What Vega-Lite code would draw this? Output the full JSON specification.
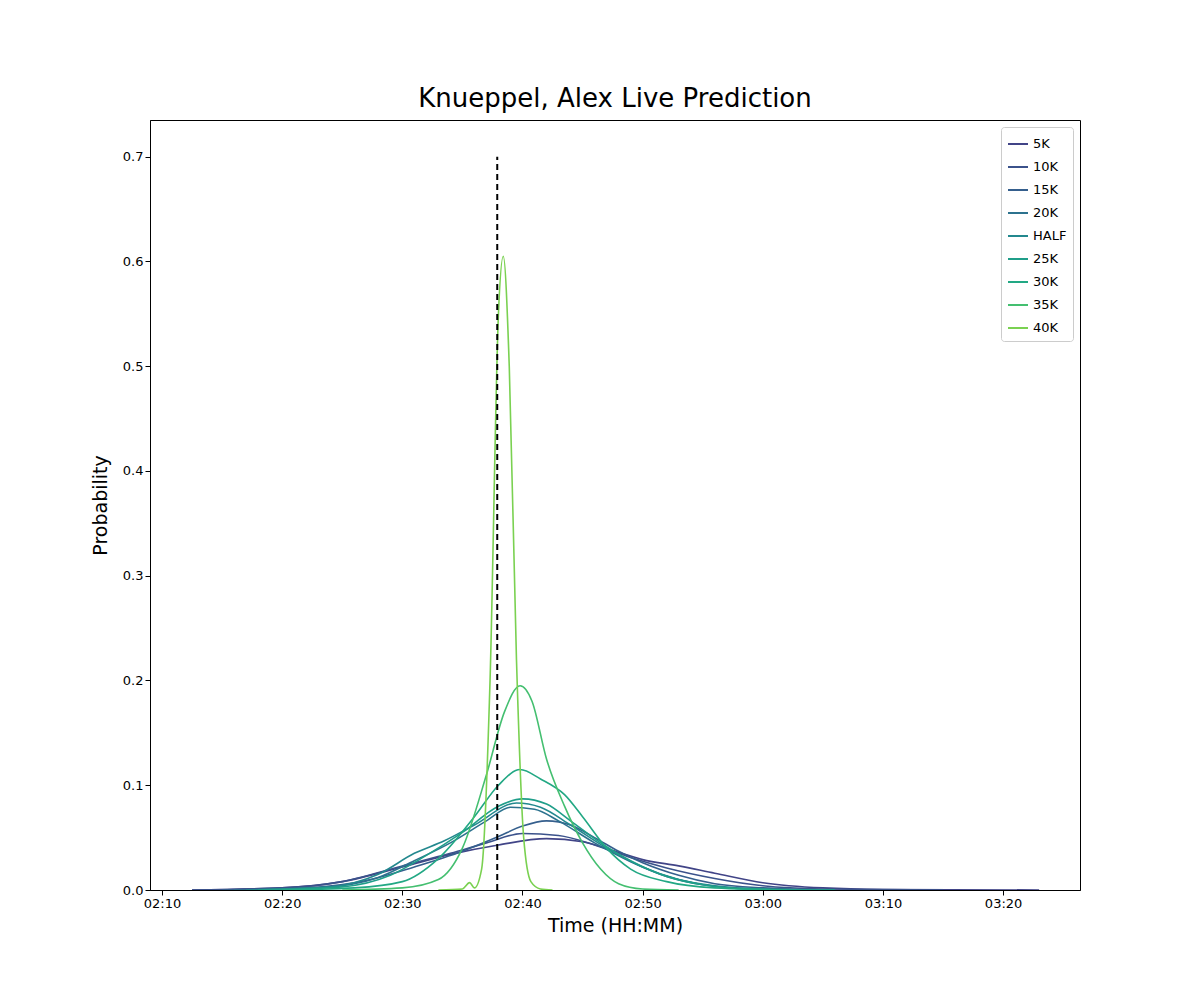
{
  "$schema": "https://vega.github.io/schema/vega-lite/v6.json",
  "autosize": "none",
  "width": 930,
  "height": 770,
  "padding": {"left": 150, "top": 120, "right": 120, "bottom": 110},
  "title": {"text": "Knueppel, Alex Live Prediction", "fontSize": 26, "font": "DejaVu Sans", "fontWeight": "normal", "offset": 8},
  "config": {
    "font": "DejaVu Sans",
    "view": {"stroke": "black", "strokeWidth": 1},
    "axis": {"grid": false, "domainColor": "black", "tickColor": "black", "labelColor": "black", "labelFontSize": 13, "titleFontSize": 19, "titleFontWeight": "normal", "titleColor": "black"}
  },
  "datasets": {
    "curves": [
      {"s":"5K","o":0,"t":132.5,"p":0},{"s":"5K","o":0,"t":140,"p":0.002},{"s":"5K","o":0,"t":145,"p":0.008},{"s":"5K","o":0,"t":150,"p":0.022},{"s":"5K","o":0,"t":154,"p":0.034},{"s":"5K","o":0,"t":158,"p":0.043},{"s":"5K","o":0,"t":162,"p":0.049},{"s":"5K","o":0,"t":165,"p":0.046},{"s":"5K","o":0,"t":168,"p":0.036},{"s":"5K","o":0,"t":170,"p":0.029},{"s":"5K","o":0,"t":173,"p":0.023},{"s":"5K","o":0,"t":176,"p":0.016},{"s":"5K","o":0,"t":180,"p":0.007},{"s":"5K","o":0,"t":185,"p":0.002},{"s":"5K","o":0,"t":190,"p":0.0005},{"s":"5K","o":0,"t":203,"p":0},
      {"s":"10K","o":1,"t":132.5,"p":0},{"s":"10K","o":1,"t":140,"p":0.002},{"s":"10K","o":1,"t":145,"p":0.008},{"s":"10K","o":1,"t":150,"p":0.023},{"s":"10K","o":1,"t":154,"p":0.035},{"s":"10K","o":1,"t":157,"p":0.045},{"s":"10K","o":1,"t":160,"p":0.054},{"s":"10K","o":1,"t":163,"p":0.052},{"s":"10K","o":1,"t":166,"p":0.043},{"s":"10K","o":1,"t":169,"p":0.031},{"s":"10K","o":1,"t":172,"p":0.021},{"s":"10K","o":1,"t":176,"p":0.011},{"s":"10K","o":1,"t":180,"p":0.004},{"s":"10K","o":1,"t":185,"p":0.001},{"s":"10K","o":1,"t":195,"p":0},
      {"s":"15K","o":2,"t":135,"p":0},{"s":"15K","o":2,"t":142,"p":0.002},{"s":"15K","o":2,"t":147,"p":0.009},{"s":"15K","o":2,"t":151,"p":0.022},{"s":"15K","o":2,"t":155,"p":0.037},{"s":"15K","o":2,"t":158,"p":0.051},{"s":"15K","o":2,"t":160,"p":0.061},{"s":"15K","o":2,"t":162,"p":0.066},{"s":"15K","o":2,"t":164,"p":0.062},{"s":"15K","o":2,"t":166,"p":0.05},{"s":"15K","o":2,"t":168,"p":0.037},{"s":"15K","o":2,"t":170,"p":0.026},{"s":"15K","o":2,"t":173,"p":0.014},{"s":"15K","o":2,"t":176,"p":0.006},{"s":"15K","o":2,"t":180,"p":0.002},{"s":"15K","o":2,"t":186,"p":0},
      {"s":"20K","o":3,"t":136,"p":0},{"s":"20K","o":3,"t":143,"p":0.002},{"s":"20K","o":3,"t":148,"p":0.012},{"s":"20K","o":3,"t":151,"p":0.028},{"s":"20K","o":3,"t":154,"p":0.045},{"s":"20K","o":3,"t":157,"p":0.066},{"s":"20K","o":3,"t":159,"p":0.079},{"s":"20K","o":3,"t":161,"p":0.077},{"s":"20K","o":3,"t":163,"p":0.066},{"s":"20K","o":3,"t":166,"p":0.045},{"s":"20K","o":3,"t":169,"p":0.027},{"s":"20K","o":3,"t":172,"p":0.013},{"s":"20K","o":3,"t":175,"p":0.005},{"s":"20K","o":3,"t":179,"p":0.001},{"s":"20K","o":3,"t":186,"p":0},
      {"s":"HALF","o":4,"t":137,"p":0},{"s":"HALF","o":4,"t":144,"p":0.003},{"s":"HALF","o":4,"t":148,"p":0.015},{"s":"HALF","o":4,"t":151,"p":0.035},{"s":"HALF","o":4,"t":153.5,"p":0.047},{"s":"HALF","o":4,"t":156,"p":0.062},{"s":"HALF","o":4,"t":159.5,"p":0.083},{"s":"HALF","o":4,"t":161.5,"p":0.079},{"s":"HALF","o":4,"t":164,"p":0.062},{"s":"HALF","o":4,"t":167,"p":0.04},{"s":"HALF","o":4,"t":170,"p":0.022},{"s":"HALF","o":4,"t":173,"p":0.01},{"s":"HALF","o":4,"t":176,"p":0.004},{"s":"HALF","o":4,"t":180,"p":0.001},{"s":"HALF","o":4,"t":186,"p":0},
      {"s":"25K","o":5,"t":138,"p":0},{"s":"25K","o":5,"t":145,"p":0.003},{"s":"25K","o":5,"t":149,"p":0.014},{"s":"25K","o":5,"t":152,"p":0.033},{"s":"25K","o":5,"t":155,"p":0.055},{"s":"25K","o":5,"t":158,"p":0.08},{"s":"25K","o":5,"t":160,"p":0.087},{"s":"25K","o":5,"t":162,"p":0.082},{"s":"25K","o":5,"t":164,"p":0.066},{"s":"25K","o":5,"t":166.5,"p":0.045},{"s":"25K","o":5,"t":169,"p":0.028},{"s":"25K","o":5,"t":172,"p":0.013},{"s":"25K","o":5,"t":175,"p":0.005},{"s":"25K","o":5,"t":179,"p":0.001},{"s":"25K","o":5,"t":186,"p":0},
      {"s":"30K","o":6,"t":140,"p":0},{"s":"30K","o":6,"t":146,"p":0.002},{"s":"30K","o":6,"t":150,"p":0.008},{"s":"30K","o":6,"t":153,"p":0.03},{"s":"30K","o":6,"t":156,"p":0.07},{"s":"30K","o":6,"t":158,"p":0.1},{"s":"30K","o":6,"t":159.8,"p":0.115},{"s":"30K","o":6,"t":161.5,"p":0.106},{"s":"30K","o":6,"t":163.5,"p":0.091},{"s":"30K","o":6,"t":165,"p":0.07},{"s":"30K","o":6,"t":167,"p":0.04},{"s":"30K","o":6,"t":169,"p":0.02},{"s":"30K","o":6,"t":172,"p":0.008},{"s":"30K","o":6,"t":176,"p":0.002},{"s":"30K","o":6,"t":182,"p":0},
      {"s":"35K","o":7,"t":145,"p":0},{"s":"35K","o":7,"t":150,"p":0.002},{"s":"35K","o":7,"t":153,"p":0.01},{"s":"35K","o":7,"t":155,"p":0.04},{"s":"35K","o":7,"t":157,"p":0.11},{"s":"35K","o":7,"t":158.5,"p":0.17},{"s":"35K","o":7,"t":159.8,"p":0.195},{"s":"35K","o":7,"t":160.8,"p":0.18},{"s":"35K","o":7,"t":162,"p":0.125},{"s":"35K","o":7,"t":163.5,"p":0.08},{"s":"35K","o":7,"t":165,"p":0.045},{"s":"35K","o":7,"t":166.5,"p":0.02},{"s":"35K","o":7,"t":168,"p":0.006},{"s":"35K","o":7,"t":170,"p":0.001},{"s":"35K","o":7,"t":173,"p":0},
      {"s":"40K","o":8,"t":153,"p":0},{"s":"40K","o":8,"t":155,"p":0.001},{"s":"40K","o":8,"t":155.6,"p":0.007},{"s":"40K","o":8,"t":156,"p":0.002},{"s":"40K","o":8,"t":156.6,"p":0.02},{"s":"40K","o":8,"t":157.3,"p":0.2},{"s":"40K","o":8,"t":158,"p":0.55},{"s":"40K","o":8,"t":158.4,"p":0.605},{"s":"40K","o":8,"t":158.9,"p":0.5},{"s":"40K","o":8,"t":159.5,"p":0.22},{"s":"40K","o":8,"t":160.1,"p":0.05},{"s":"40K","o":8,"t":160.7,"p":0.008},{"s":"40K","o":8,"t":161.5,"p":0.001},{"s":"40K","o":8,"t":162.5,"p":0}
    ],
    "actual": [{"t": 157.9, "p": 0}, {"t": 157.9, "p": 0.7}]
  },
  "layer": [
    {
      "data": {"name": "curves"},
      "mark": {"type": "line", "interpolate": "monotone", "strokeWidth": 1.6, "clip": true},
      "encoding": {
        "x": {"field": "t", "type": "quantitative", "scale": {"domain": [129, 206.4], "nice": false, "zero": false},
          "axis": {"values": [130,140,150,160,170,180,190,200], "labelExpr": "'0' + floor(datum.value/60) + ':' + (datum.value%60 < 10 ? '0' : '') + (datum.value%60)", "title": "Time (HH:MM)", "titlePadding": 6}},
        "y": {"field": "p", "type": "quantitative", "scale": {"domain": [0, 0.735], "nice": false},
          "axis": {"values": [0,0.1,0.2,0.3,0.4,0.5,0.6,0.7], "format": ".1f", "title": "Probability", "titlePadding": 12}},
        "color": {"field": "s", "type": "nominal",
          "scale": {"domain": ["5K","10K","15K","20K","HALF","25K","30K","35K","40K"],
                    "range": ["#414487","#3b528b","#355f8d","#2c728e","#23888e","#1f9e89","#22a884","#44bf70","#7ad151"]},
          "legend": {"title": null, "orient": "top-right", "offset": 7, "symbolType": "stroke", "symbolStrokeWidth": 2, "symbolSize": 400, "labelFontSize": 13, "rowPadding": 5, "padding": 6, "strokeColor": "#cccccc", "cornerRadius": 3, "fillColor": "white"}},
        "detail": {"field": "o"}
      }
    },
    {
      "data": {"name": "actual"},
      "mark": {"type": "line", "color": "black", "strokeDash": [6, 4], "strokeWidth": 2},
      "encoding": {
        "x": {"field": "t", "type": "quantitative"},
        "y": {"field": "p", "type": "quantitative"}
      }
    }
  ]
}
